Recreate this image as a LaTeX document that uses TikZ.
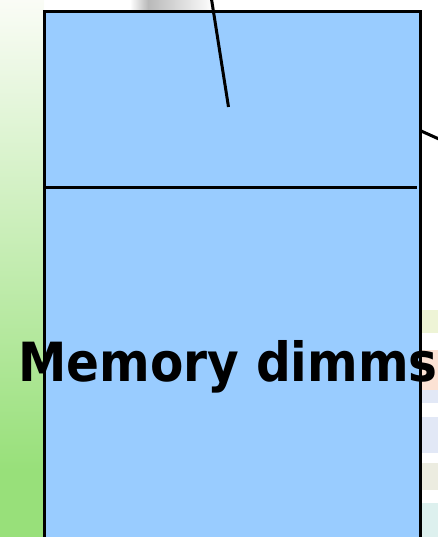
\documentclass[tikz,border=0pt]{standalone}
\usepackage{fontspec}
\setmainfont{DejaVu Sans}
\newfontfamily\dimmfont{DejaVu Sans Condensed}
\usepackage{tikz}
\usetikzlibrary{positioning, calc}
\definecolor{dimmblue}{HTML}{99CCFF}
\definecolor{leafgreen}{HTML}{98E07A}
\definecolor{paleleaf}{HTML}{FAFCF6}
\definecolor{tileyellow}{HTML}{EEF4D6}
\definecolor{tilepeach}{HTML}{FCE2D4}
\definecolor{tileblue}{HTML}{E2E8F6}
\definecolor{tilebeige}{HTML}{ECECE0}
\definecolor{tilecyan}{HTML}{DDF0EE}
\tikzset{
  edgeline/.style={draw=black, line width=3pt},
  tile/.style={draw=none}
}

\begin{document}
\begin{tikzpicture}[x=1pt, y=-1pt]
  \useasboundingbox (0,0) rectangle (438,537);
  \clip (0,0) rectangle (438,537);
  % background bits of the slide
  \shade[top color=paleleaf, bottom color=leafgreen] (0,0) rectangle (44,470);
  \fill[leafgreen] (0,469) rectangle (44,537);
  \shade[left color=white, right color=gray!55] (130,0) rectangle (148,11);
  \shade[left color=gray!55, right color=white] (148,0) rectangle (214,11);
  \fill[tileyellow] (421,310) rectangle (438,333);
  \fill[tilepeach] (421,350) rectangle (438,390);
  \fill[tileblue] (421,390) rectangle (438,403);
  \fill[tileblue] (421,417) rectangle (438,453);
  \fill[tilebeige] (421,463) rectangle (438,490);
  \fill[tilecyan] (421,503) rectangle (438,537);
  % the dimm block
  \filldraw[fill=dimmblue, edgeline] (44,12) rectangle (420,560);
  \coordinate (slotL) at (44,188);
  \coordinate (slotR) at (417,188);
  \draw[edgeline] (slotL) -- (slotR);
  % callout lines
  \coordinate (callA) at (211,-4);
  \coordinate (tipA) at (228.5,107);
  \draw[edgeline] (callA) -- (tipA);
  \coordinate (tipB) at (420,130.5);
  \coordinate (callB) at (440,139.5);
  \draw[edgeline] (tipB) -- (callB);
  \node[anchor=base, inner sep=0pt] (dimms) at (228,381.7)
    {\dimmfont\bfseries\fontsize{54}{60}\selectfont Memory dimms};
\end{tikzpicture}
\end{document}
